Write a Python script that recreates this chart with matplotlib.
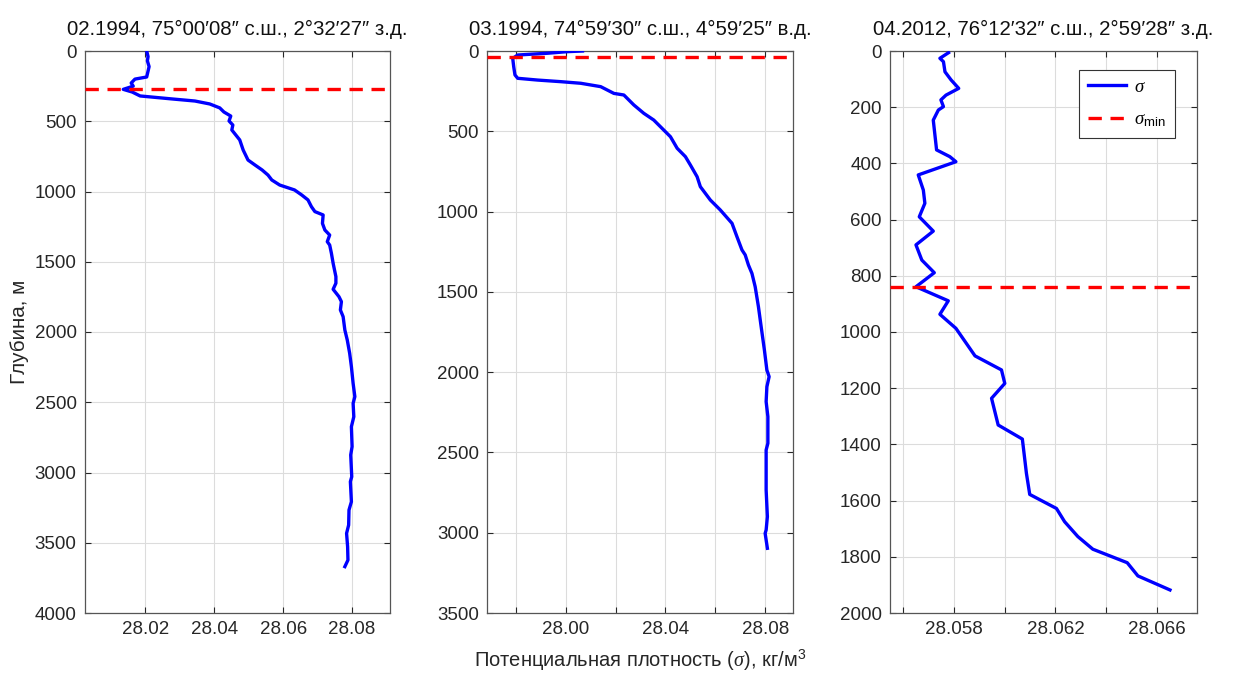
import matplotlib
matplotlib.use("Agg")
import matplotlib.pyplot as plt
from matplotlib.ticker import MultipleLocator, FuncFormatter

plt.rcParams['font.family'] = ['Liberation Sans', 'DejaVu Sans']
plt.rcParams['mathtext.fontset'] = 'custom'
plt.rcParams['mathtext.rm'] = 'Liberation Sans'
plt.rcParams['mathtext.it'] = 'Liberation Serif:italic'

# station 1: 02.1994
sig1 = [28.0204, 28.0208, 28.0206, 28.0211, 28.0204, 28.0170, 28.0159, 28.0165, 28.0136,
        28.0162, 28.0185, 28.0272, 28.0344, 28.0387, 28.0416, 28.0428, 28.0448, 28.0443,
        28.0454, 28.0451, 28.0474, 28.0484, 28.0498, 28.0518, 28.0539, 28.0556, 28.0567,
        28.0590, 28.0633, 28.0654, 28.0672, 28.0682, 28.0692, 28.0716, 28.0714, 28.0721,
        28.0735, 28.0728, 28.0735, 28.0740, 28.0745, 28.0753, 28.0753, 28.0745, 28.0762,
        28.0769, 28.0766, 28.0774, 28.0779, 28.0786, 28.0793, 28.0798, 28.0803, 28.0808,
        28.0803, 28.0805, 28.0798, 28.0800, 28.0796, 28.0799, 28.0795, 28.0798, 28.0791,
        28.0790, 28.0784, 28.0787, 28.0788, 28.0779]
dep1 = [0, 40, 70, 111, 185, 200, 228, 250, 273,
        292, 320, 340, 356, 377, 405, 434, 463, 498,
        527, 562, 633, 705, 776, 811, 847, 883, 918,
        954, 989, 1025, 1060, 1108, 1143, 1167, 1227, 1274,
        1310, 1357, 1381, 1440, 1511, 1606, 1653, 1696, 1749,
        1784, 1843, 1891, 1986, 2057, 2152, 2247, 2366, 2460,
        2508, 2603, 2674, 2816, 2875, 3030, 3065, 3208, 3267,
        3374, 3433, 3528, 3623, 3670]
smin1 = 273

# station 2: 03.1994
sig2 = [28.0067, 28.0007, 27.9927, 27.9807, 27.9787, 27.9791, 27.9796, 27.9807, 27.9887,
        27.9980, 28.0060, 28.0140, 28.0193, 28.0233, 28.0273, 28.0313, 28.0353, 28.0393,
        28.0420, 28.0447, 28.0480, 28.0500, 28.0527, 28.0540, 28.0580, 28.0620, 28.0667,
        28.0687, 28.0707, 28.0720, 28.0733, 28.0747, 28.0760, 28.0773, 28.0784, 28.0797,
        28.0807, 28.0816, 28.0807, 28.0804, 28.0811, 28.0811, 28.0804, 28.0804, 28.0809,
        28.0804, 28.0800, 28.0809]
dep2 = [0, 4, 14, 25, 46, 98, 149, 170, 181,
        191, 201, 222, 264, 274, 336, 388, 430, 492,
        534, 606, 658, 710, 783, 845, 928, 990, 1073,
        1157, 1239, 1270, 1333, 1385, 1468, 1592, 1717, 1862,
        1987, 2028, 2091, 2184, 2277, 2443, 2485, 2734, 2900,
        2983, 3004, 3097]
smin2 = 35

# station 3: 04.2012
sig3 = [28.05780, 28.05746, 28.05760, 28.05766, 28.05790, 28.05820, 28.05770, 28.05750,
        28.05760, 28.05740, 28.05720, 28.05733, 28.05785, 28.05809, 28.05661, 28.05681,
        28.05687, 28.05665, 28.05720, 28.05652, 28.05675, 28.05724, 28.05652, 28.05779,
        28.05746, 28.05809, 28.05884, 28.05988, 28.06001, 28.05949, 28.05975, 28.06070,
        28.06086, 28.06099, 28.06204, 28.06236, 28.06288, 28.06347, 28.06482, 28.06524,
        28.06650]
dep3 = [6, 26, 38, 74, 103, 133, 157, 174,
        198, 210, 246, 352, 376, 394, 441, 495,
        542, 590, 641, 690, 744, 789, 839, 889,
        937, 987, 1085, 1135, 1183, 1236, 1331, 1381,
        1503, 1578, 1628, 1675, 1728, 1773, 1821, 1868,
        1918]
smin3 = 839

titles = ["02.1994, 75°00′08″ с.ш., 2°32′27″ з.д.",
          "03.1994, 74°59′30″ с.ш., 4°59′25″ в.д.",
          "04.2012, 76°12′32″ с.ш., 2°59′28″ з.д."]

fig = plt.figure(figsize=(12.35, 6.75), dpi=100)
W, H = 1235, 675
lefts = [85, 487.3, 890]
widths = [305, 306, 306.7]
top, bottom = 51, 613

panels = [
    (sig1, dep1, smin1, (28.0025, 28.091), 4000, 500, 0.02, None, "%.2f"),
    (sig2, dep2, smin2, (27.9685, 28.0913), 3500, 500, 0.02, [28.00, 28.04, 28.08], "%.2f"),
    (sig3, dep3, smin3, (28.0555, 28.06755), 2000, 200, 0.002, [28.058, 28.062, 28.066], "%.3f"),
]

axes = []
for i, (s, d, sm, xl, ymax, ystep, xstep, labeled, fmt) in enumerate(panels):
    ax = fig.add_axes([lefts[i] / W, 1 - bottom / H, widths[i] / W, (bottom - top) / H])
    ax.plot(s, d, color=(0, 0, 1), lw=2.4, label=r"$\sigma$", zorder=3)
    ax.axhline(sm, color=(1, 0, 0), lw=2.4, ls=(0, (4, 2.6)), label=r"$\sigma_{\mathrm{min}}$", zorder=3)
    ax.set_xlim(*xl)
    ax.set_ylim(ymax, 0)
    ax.yaxis.set_major_locator(MultipleLocator(ystep))
    ax.xaxis.set_major_locator(MultipleLocator(xstep))
    if labeled is not None:
        def f(v, pos, labeled=labeled, fmt=fmt):
            for lv in labeled:
                if abs(v - lv) < 1e-7:
                    return fmt % v
            return ""
        ax.xaxis.set_major_formatter(FuncFormatter(f))
    else:
        ax.xaxis.set_major_formatter(FuncFormatter(lambda v, pos, fmt=fmt: fmt % v))
    ax.grid(True, color='#dcdcdc', lw=0.8, zorder=0)
    ax.set_axisbelow(True)
    ax.tick_params(direction='in', length=4.5, width=0.8, top=True, right=True,
                   labelsize=13.5, colors='#262626', pad=6)
    for sp in ax.spines.values():
        sp.set_color('#555555')
        sp.set_linewidth(0.9)
    ax.set_title(titles[i], fontsize=14.7, pad=11.5, color='#111111')
    axes.append(ax)

axes[0].set_ylabel("Глубина, м", fontsize=14.9, color='#262626', labelpad=4)
axes[1].set_xlabel(r"Потенциальная плотность ($\sigma$), кг/м$^3$", fontsize=14.5, color='#262626', labelpad=7)

leg = axes[2].legend(loc='upper right', bbox_to_anchor=(0.93, 0.967), borderaxespad=0,
                     fancybox=False, framealpha=1, edgecolor='#333333', fontsize=13.5,
                     handlelength=2.0, handletextpad=0.45, borderpad=0.5, labelspacing=0.8)
leg.get_frame().set_linewidth(0.8)

fig.savefig("out.png", dpi=100)
